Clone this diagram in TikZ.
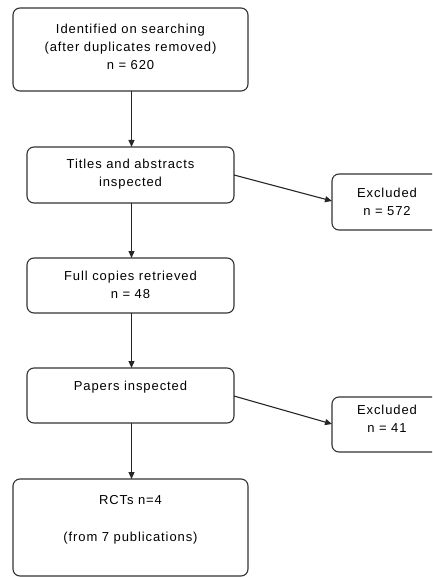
\documentclass[tikz,border=0pt]{standalone}
\usepackage{fontspec}
\setmainfont{Liberation Sans}[LetterSpace=7]
\usetikzlibrary{arrows.meta}
\begin{document}
\begin{tikzpicture}[x=1pt,y=-1pt,
  box/.style={draw=black!80,line width=1.1pt,rounded corners=7pt,fill=white},
  lbl/.style={align=center,font=\fontsize{13}{18}\selectfont,inner sep=0pt},
  conn/.style={draw=black!85,line width=1.1pt,-{Triangle[length=7pt,width=6pt]}}]
\useasboundingbox (0,0) rectangle (432,577);
\clip (0,0) rectangle (432,577);
% boxes
\draw[box] (13,8) rectangle (248,91);
\node[lbl] (b1) at (130.5,47) {Identified on searching\\(after duplicates removed)\\n = 620};
\draw[box] (27,147) rectangle (234,203);
\node[lbl] (b2) at (130.5,174) {Titles and abstracts\\inspected};
\draw[box] (332,174) rectangle (444,230);
\node[lbl] (e1) at (387,201.5) {Excluded\\n = 572};
\draw[box] (27,258) rectangle (234,313);
\node[lbl] (b3) at (130.5,285) {Full copies retrieved\\n = 48};
\draw[box] (27,368) rectangle (234,423);
\node[lbl] (b4) at (130.5,387) {Papers inspected};
\draw[box] (332,397) rectangle (444,452);
\node[lbl] (e2) at (387,419) {Excluded\\n = 41};
\draw[box] (13,479) rectangle (248,576);
\node[lbl] (b5) at (130.5,500) {RCTs n=4};
\node[lbl] (b5b) at (130.5,538) {(from 7 publications)};
% anchor coordinates
\coordinate (b1s) at (131.5,91);
\coordinate (b2n) at (131.5,147);
\coordinate (b2s) at (131.5,203);
\coordinate (b2e) at (234,175);
\coordinate (e1w) at (332,201);
\coordinate (b3n) at (131.5,258);
\coordinate (b3s) at (131.5,313);
\coordinate (b4n) at (131.5,368);
\coordinate (b4s) at (131.5,423);
\coordinate (b4e) at (234,396);
\coordinate (e2w) at (332,424);
\coordinate (b5n) at (131.5,479);
% connectors
\draw[conn] (b1s) -- (b2n);
\draw[conn] (b2e) -- (e1w);
\draw[conn] (b2s) -- (b3n);
\draw[conn] (b3s) -- (b4n);
\draw[conn] (b4e) -- (e2w);
\draw[conn] (b4s) -- (b5n);
\end{tikzpicture}
\end{document}
